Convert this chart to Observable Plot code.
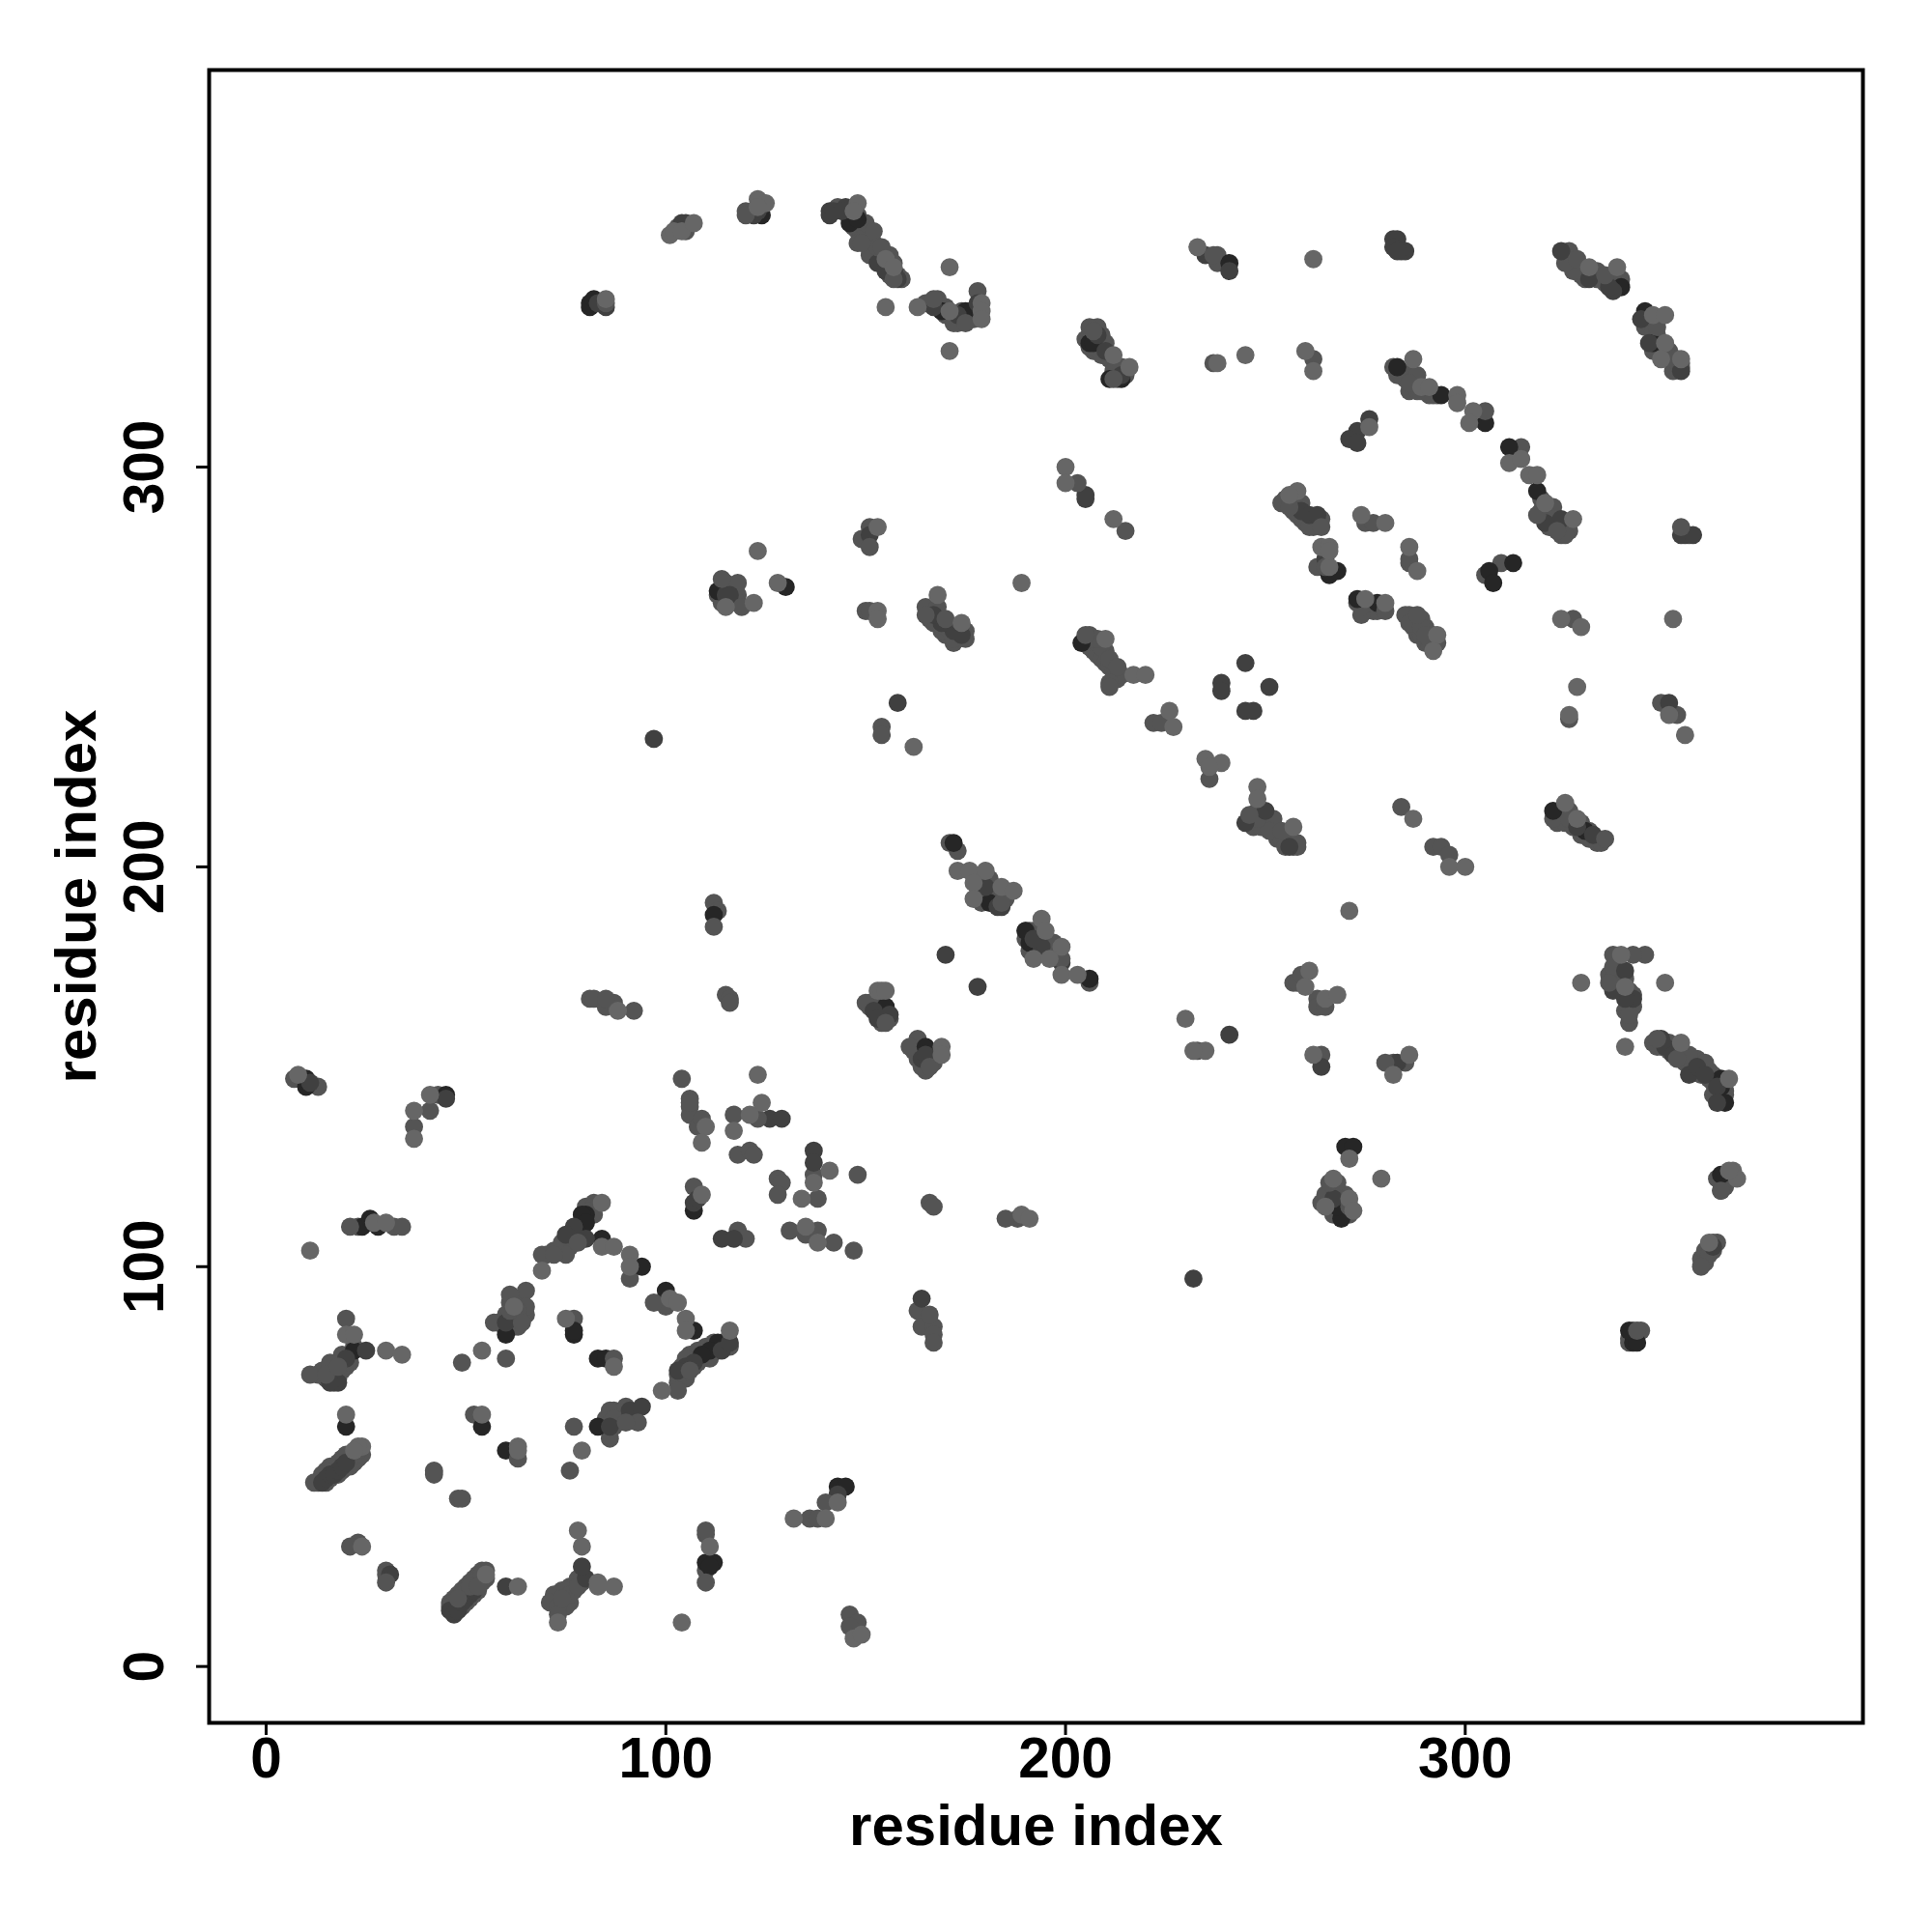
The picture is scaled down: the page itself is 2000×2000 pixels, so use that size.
<!DOCTYPE html>
<html><head><meta charset="utf-8">
<script src="https://cdn.jsdelivr.net/npm/d3@7"></script>
<script src="https://cdn.jsdelivr.net/npm/@observablehq/plot@0.6"></script>
<style>html,body{margin:0;padding:0;background:#fff}svg{display:block}</style>
</head><body><div id="chart"></div>
<script>
const xTicks=[0,100,200,300];
const yTicks=[0,100,200,300];
const xTitle="residue index";
const yTitle="residue index";
const tierNames=["darkest","dark","mid","light"];
const darkest=[[81,340],[81,341],[82,342],[124,363],[146,361],[148,362],[157,349],[169,339],[175,339],[113,269],[130,270],[206,331],[207,331],[214,322],[294,318],[266,273],[268,274],[273,267],[278,266],[204,256],[322,214],[330,209],[172,206],[181,191],[191,181],[190,184],[206,172],[165,155],[155,165],[112,188],[107,114],[80,113],[79,113],[80,111],[94,100],[100,94],[84,107],[107,84],[113,81],[111,79],[109,78],[60,83],[77,83],[77,84],[83,77],[85,77],[83,60],[54,60],[60,54],[24,110],[28,110],[26,112],[22,79],[10,147],[10,145],[45,143],[20,60],[110,26],[112,26],[111,25],[143,45],[145,45],[270,130],[272,130],[269,112],[268,115],[364,147],[364,145],[365,141],[364,123],[342,81],[343,81],[341,84],[347,331],[345,339],[339,345],[241,351],[211,322],[305,311],[311,305],[318,294],[306,274],[307,271],[312,276],[283,325]];
const dark=[[83,341],[85,340],[104,361],[105,361],[122,363],[123,364],[141,364],[141,363],[142,364],[145,365],[144,364],[153,351],[155,349],[158,347],[167,340],[173,338],[178,341],[151,283],[115,268],[116,268],[172,259],[174,258],[169,261],[167,263],[235,353],[241,349],[208,333],[210,329],[214,323],[205,292],[205,293],[259,289],[261,288],[263,288],[265,277],[276,312],[273,309],[271,307],[273,306],[245,251],[239,246],[239,244],[251,245],[245,239],[247,239],[97,232],[158,241],[170,178],[178,170],[180,195],[184,190],[183,190],[194,180],[192,182],[199,176],[152,164],[153,162],[156,163],[164,152],[165,153],[137,129],[137,126],[126,137],[129,137],[107,116],[108,117],[114,107],[117,107],[80,107],[77,110],[75,108],[164,92],[105,75],[103,74],[107,76],[114,79],[116,81],[60,86],[86,60],[91,64],[94,65],[46,14],[47,13],[48,14],[49,16],[50,17],[51,18],[52,19],[14,46],[15,47],[16,48],[17,48],[18,49],[19,50],[20,51],[45,142],[11,146],[18,71],[16,71],[20,77],[60,20],[25,79],[80,22],[79,25],[31,23],[143,43],[349,157],[350,155],[352,153],[356,148],[358,150],[360,148],[363,145],[363,141],[342,167],[340,167],[340,174],[337,169],[332,208],[328,210],[245,211],[250,214],[256,205],[232,97],[241,158],[264,150],[283,151],[267,117],[362,105],[282,357],[283,357],[282,355],[284,354],[285,354],[283,354],[324,354],[331,347],[337,344],[336,345],[344,337],[354,324],[346,331],[351,241],[355,283],[354,283],[357,283],[324,287],[320,286]];
const midFill=[[47,15],[48,15],[48,16],[49,17],[50,18],[51,19],[52,20],[53,21],[54,22],[55,22],[47,14],[49,15],[50,16],[51,17],[52,18],[53,19],[54,21],[46,16],[47,17],[48,18],[49,19],[50,20],[51,21],[52,22],[53,23],[54,24],[13,46],[14,47],[15,46],[16,47],[17,49],[18,48],[19,49],[20,50],[21,50],[22,51],[23,52],[24,53],[21,52],[20,53],[19,52],[18,51],[17,50],[16,50],[15,49],[14,48],[22,53],[23,54],[12,46],[70,103],[73,104],[74,104],[75,105],[76,105],[76,107],[77,107],[77,108],[78,108],[78,109],[79,110],[79,111],[80,112],[81,113],[81,115],[80,115],[82,116],[82,115],[81,114],[82,113],[79,109],[76,106],[74,105],[72,104],[103,73],[104,73],[104,75],[105,73],[106,76],[107,75],[107,78],[108,76],[108,79],[109,77],[110,78],[110,80],[111,77],[112,79],[112,81],[113,79],[114,81],[115,80],[115,81],[106,78],[105,72],[116,80],[85,60],[87,60],[88,61],[88,63],[89,62],[90,63],[92,63],[87,64],[86,62],[85,62],[60,88],[61,86],[62,85],[63,85],[63,92],[64,91],[65,88],[64,88],[61,91],[60,84],[58,86],[16,73],[17,73],[17,75],[18,73],[18,72],[19,74],[19,76],[20,75],[21,78],[21,76],[19,78],[16,74],[15,72],[17,71],[22,80],[143,365],[146,364],[146,362],[147,360],[148,359],[149,358],[150,356],[151,357],[152,355],[152,356],[153,353],[154,352],[154,353],[155,350],[156,350],[157,351],[158,348],[156,348],[149,361],[148,363],[150,359],[151,355],[169,340],[170,338],[173,336],[174,337],[176,337],[177,337],[170,340],[174,339],[176,339],[206,333],[207,332],[208,331],[209,330],[210,328],[211,327],[212,326],[213,324],[214,324],[215,323],[212,324],[213,322],[205,332],[207,329],[209,333],[210,331],[208,335],[206,335],[283,323],[285,322],[284,324],[286,323],[287,322],[289,319],[290,319],[292,318],[293,318],[291,318],[286,319],[288,320],[255,292],[257,291],[258,290],[259,291],[260,288],[262,287],[263,286],[262,285],[260,286],[259,287],[257,289],[264,287],[273,266],[274,266],[275,264],[276,265],[277,264],[278,264],[279,265],[276,266],[286,263],[287,262],[287,260],[288,260],[288,258],[289,258],[290,256],[291,256],[292,255],[291,257],[292,258],[290,260],[289,262],[293,256],[319,289],[321,288],[320,288],[322,285],[321,285],[323,286],[325,285],[326,284],[324,283],[319,292],[322,290],[325,353],[327,351],[329,350],[329,348],[330,349],[332,348],[333,349],[334,347],[335,346],[336,347],[338,346],[339,347],[328,350],[330,347],[333,347],[345,335],[346,337],[346,336],[347,334],[348,333],[348,330],[349,331],[350,329],[351,329],[351,327],[352,326],[353,325],[349,329],[347,329],[352,324],[353,327],[354,325],[323,213],[323,211],[324,214],[325,213],[325,211],[327,210],[329,208],[330,208],[331,209],[331,207],[333,206],[334,206],[329,211],[326,214],[205,257],[206,255],[206,258],[207,254],[208,253],[208,256],[209,252],[210,251],[210,254],[211,250],[212,249],[212,247],[213,247],[214,248],[211,246],[209,255],[207,257],[348,155],[349,155],[351,154],[352,155],[353,154],[354,152],[354,154],[355,151],[356,152],[357,150],[357,151],[358,149],[359,148],[361,149],[361,147],[362,146],[363,147],[365,146],[365,144],[364,142],[365,143],[363,143],[362,143],[360,149],[358,152],[347,156],[336,173],[337,172],[338,170],[338,173],[339,171],[340,169],[340,172],[341,167],[341,169],[342,168],[340,164],[341,161],[265,117],[266,119],[266,116],[267,119],[267,115],[268,113],[268,117],[269,114],[269,116],[270,113],[270,116],[271,113],[270,118],[267,113],[264,116],[113,268],[114,270],[115,271],[116,270],[117,269],[118,268],[116,266],[114,266],[247,210],[249,213],[249,210],[250,212],[251,211],[252,210],[253,209],[253,207],[254,207],[255,206],[256,207],[257,205],[255,205],[258,205],[247,213],[248,214],[190,182],[191,184],[192,184],[193,182],[193,180],[194,182],[195,181],[196,180],[191,179],[192,179],[197,179],[197,181],[198,178],[178,195],[179,194],[179,191],[180,192],[182,193],[182,191],[183,192],[178,197],[181,197],[185,192],[170,258],[171,259],[172,256],[173,257],[173,260],[175,257],[175,259],[166,262],[167,261],[168,263],[169,259],[170,260],[151,165],[152,166],[153,164],[154,163],[154,166],[155,163],[156,162],[151,166],[154,161],[162,154],[163,154],[164,155],[163,152],[165,151],[166,152],[167,151],[165,149],[164,150],[72,17],[74,15],[75,17],[76,16],[76,20],[77,19],[77,20],[78,22],[79,21],[75,15],[74,19],[73,18],[79,22],[360,103],[361,105],[362,104],[363,106],[361,104],[359,102],[362,106],[341,82],[343,83],[341,81],[363,122],[364,121],[365,122],[364,119],[365,120]];
const mid=[[85,341],[103,360],[105,359],[120,363],[120,364],[150,358],[153,355],[151,353],[148,356],[149,356],[150,361],[152,359],[154,355],[156,353],[159,347],[157,347],[147,363],[165,341],[167,342],[168,342],[172,336],[175,336],[178,344],[177,339],[114,272],[118,271],[118,266],[119,265],[151,285],[149,282],[151,280],[150,264],[151,264],[165,263],[165,265],[168,265],[170,262],[172,257],[174,259],[237,353],[238,353],[238,351],[207,334],[206,330],[209,328],[212,322],[214,325],[237,326],[262,327],[282,325],[284,323],[286,321],[288,319],[288,323],[203,296],[215,284],[254,291],[256,290],[258,288],[261,285],[264,285],[275,286],[277,286],[286,277],[286,276],[263,275],[265,275],[274,263],[274,265],[280,264],[285,263],[286,261],[288,263],[289,260],[290,258],[205,258],[208,257],[211,252],[213,250],[211,245],[327,262],[326,237],[349,241],[353,238],[354,285],[356,283],[326,354],[328,352],[327,349],[325,351],[335,348],[338,348],[337,345],[348,335],[352,327],[354,326],[305,314],[314,305],[309,276],[318,288],[322,287],[325,283],[323,284],[305,273],[154,235],[154,233],[171,206],[173,204],[184,191],[190,184],[194,180],[199,177],[206,171],[150,166],[155,161],[163,157],[161,155],[166,150],[112,191],[113,189],[112,185],[115,168],[116,167],[116,166],[104,147],[106,142],[106,141],[106,140],[106,138],[109,137],[108,135],[117,138],[123,137],[118,128],[121,129],[122,128],[137,123],[148,123],[138,117],[128,122],[129,121],[128,118],[107,120],[166,116],[167,115],[118,109],[120,107],[131,109],[135,108],[138,109],[142,106],[147,104],[163,89],[166,88],[164,85],[167,85],[167,81],[167,83],[79,113],[72,103],[74,106],[75,103],[78,106],[69,103],[91,97],[97,91],[100,90],[103,71],[106,74],[105,77],[103,69],[61,93],[65,94],[65,90],[64,86],[57,86],[62,87],[61,89],[63,89],[77,87],[87,77],[86,64],[90,65],[93,61],[77,60],[86,57],[90,61],[87,62],[52,63],[63,52],[76,49],[42,49],[42,48],[48,42],[49,42],[21,30],[23,31],[30,24],[30,21],[30,23],[55,24],[54,23],[53,22],[52,21],[51,20],[50,19],[49,18],[48,17],[47,16],[46,15],[53,20],[72,18],[71,16],[73,13],[75,19],[76,18],[74,17],[73,15],[78,20],[110,34],[110,33],[110,24],[110,21],[136,37],[138,37],[140,41],[146,13],[148,11],[146,10],[7,147],[13,145],[37,135],[41,139],[43,143],[21,110],[23,110],[32,110],[34,110],[20,87],[13,73],[15,73],[14,74],[11,73],[18,75],[16,76],[49,76],[60,77],[81,167],[82,167],[85,167],[85,165],[87,166],[92,164],[188,112],[185,112],[224,236],[222,236],[236,222],[246,213],[252,212],[251,209],[254,209],[258,206],[248,212],[284,215],[292,205],[294,205],[296,203],[322,212],[326,212],[335,207],[257,171],[258,171],[259,173],[263,167],[263,165],[265,165],[233,154],[264,153],[280,151],[285,151],[282,151],[266,121],[268,121],[265,118],[271,115],[269,117],[337,178],[342,178],[345,178],[337,175],[336,171],[342,165],[341,163],[348,157],[351,156],[356,153],[353,152],[360,151],[362,148],[364,119],[360,104],[360,101],[359,100],[361,103],[342,84],[343,84],[344,84]];
const light=[[85,342],[101,358],[102,359],[104,359],[107,361],[123,367],[125,366],[123,365],[148,366],[147,364],[155,352],[157,350],[155,340],[171,350],[171,329],[163,340],[171,339],[179,341],[179,339],[179,337],[123,279],[115,265],[122,266],[128,271],[153,285],[153,264],[153,262],[168,268],[174,261],[233,355],[262,352],[212,328],[216,325],[238,326],[245,328],[260,329],[262,324],[287,327],[289,320],[291,320],[298,318],[298,316],[302,314],[301,311],[276,310],[200,300],[200,296],[212,287],[258,294],[256,293],[274,288],[280,286],[286,280],[288,274],[264,280],[266,280],[266,275],[266,279],[275,267],[280,266],[293,258],[292,254],[210,257],[217,248],[220,248],[189,271],[352,262],[324,262],[329,260],[328,245],[326,238],[351,238],[355,233],[331,350],[338,350],[347,338],[350,338],[350,331],[354,327],[349,327],[311,301],[314,302],[316,298],[318,298],[320,291],[327,287],[162,230],[173,199],[176,199],[180,199],[177,196],[177,192],[184,195],[187,194],[194,187],[195,184],[199,180],[192,177],[196,177],[199,173],[203,173],[153,169],[154,169],[155,169],[169,155],[169,153],[123,148],[124,141],[121,138],[110,135],[109,131],[117,134],[141,124],[137,121],[134,117],[109,118],[135,110],[138,106],[84,116],[84,105],[87,105],[91,103],[91,100],[69,99],[101,92],[103,91],[105,87],[105,84],[116,84],[99,69],[62,90],[75,87],[87,75],[54,79],[54,63],[63,55],[63,54],[79,54],[8,148],[37,132],[37,139],[41,143],[11,104],[27,111],[30,111],[20,83],[22,83],[30,79],[34,78],[20,63],[24,55],[23,55],[22,54],[24,30],[63,20],[55,23],[79,30],[78,34],[83,21],[83,20],[87,20],[73,11],[111,30],[104,11],[132,37],[140,37],[143,41],[147,7],[149,8],[226,239],[227,235],[235,227],[239,226],[236,225],[248,220],[248,217],[257,210],[287,212],[296,200],[300,200],[271,189],[325,216],[328,212],[230,162],[235,154],[232,154],[261,174],[260,170],[265,167],[268,168],[262,153],[282,148],[286,153],[271,127],[279,122],[267,122],[265,115],[271,117],[272,114],[329,171],[350,171],[340,155],[339,178],[340,170],[354,156],[366,147],[367,124],[368,122],[366,124],[361,106],[88,164],[189,113],[191,112]];
const shades=["#262626","#404040","#545454","#666666"];

const layers=[[midFill,"mid"],[darkest,"darkest"],[dark,"dark"],[light,"light"]];
const contacts=layers.flatMap(([list,tier])=>list.map(([x,y])=>({x,y,tier})));
const midOnly=mid.filter((p,i)=>i%3===0).map(([x,y])=>({x,y,tier:"mid"}));
const midRest=mid.filter((p,i)=>i%3!==0).map(([x,y])=>({x,y,tier:"mid"}));
const ordered=[
  ...contacts.filter(d=>d.tier==="mid"),
  ...midRest,
  ...contacts.filter(d=>d.tier==="darkest"||d.tier==="dark"),
  ...midOnly,
  ...contacts.filter(d=>d.tier==="light")
];
const font='"Liberation Sans", Arial, sans-serif';
const chart=Plot.plot({
  width:2000,height:2000,
  marginLeft:216,marginRight:72,marginTop:72,marginBottom:217,
  style:{fontFamily:font,background:"#fff",color:"#000"},
  x:{domain:[-14.26,399.5],ticks:xTicks},
  y:{domain:[-14.1,399.3],ticks:yTicks},
  color:{type:"ordinal",domain:tierNames,range:shades},
  marks:[
    Plot.dot(ordered,{x:"x",y:"y",fill:"tier",r:9.4,stroke:null}),
    Plot.frame({stroke:"#000",strokeWidth:4}),
    Plot.axisX({ticks:xTicks,tickSize:13,tickPadding:2,strokeWidth:3,fontSize:58.5,fontWeight:"bold",fill:"#000",label:null,lineAnchor:"top",tickFormat:d=>String(d)}),
    Plot.axisY({ticks:yTicks,tickSize:13,tickPadding:35,strokeWidth:3,fontSize:58.5,fontWeight:"bold",fill:"#000",label:null,tickRotate:-90,tickFormat:d=>String(d)}),
    Plot.text([xTitle],{frameAnchor:"bottom",dy:126,text:d=>d,fontSize:60,fontWeight:"bold",fill:"#000"}),
    Plot.text([yTitle],{frameAnchor:"left",dx:-137,rotate:-90,text:d=>d,fontSize:60,fontWeight:"bold",fill:"#000",textAnchor:"middle"})
  ]
});
document.getElementById("chart").appendChild(chart);
</script></body></html>
